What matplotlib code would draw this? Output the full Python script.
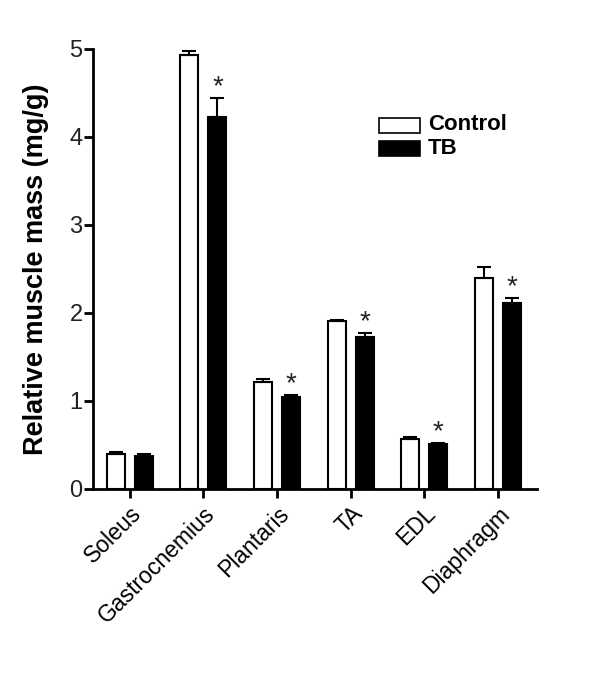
import matplotlib.pyplot as plt
from matplotlib.patches import Rectangle
import numpy as np

plt.rcParams['font.family'] = ['Liberation Sans', 'DejaVu Sans']

# Datos
muscles = ['Soleus', 'Gastrocnemius', 'Plantaris', 'TA', 'EDL', 'Diaphragm']
control = [0.40, 4.93, 1.22, 1.91, 0.57, 2.40]
control_err = [0.02, 0.05, 0.03, 0.01, 0.02, 0.12]
tb = [0.37, 4.23, 1.04, 1.73, 0.51, 2.11]
tb_err = [0.03, 0.21, 0.03, 0.04, 0.01, 0.06]
signif = [False, True, True, True, True, True]
series_names = ['Control', 'TB']

fig = plt.figure(figsize=(6, 6.77), dpi=100)
ax = fig.add_axes([0.155, 0.2777, 0.74, 0.65])

x = np.arange(len(muscles))
w = 0.245
off = 0.19

ax.bar(x - off, control, w, color='white', edgecolor='black', linewidth=1.5,
       yerr=[np.zeros(len(x)), control_err], capsize=5,
       error_kw=dict(elinewidth=1.5, capthick=1.5, ecolor='black'))
ax.bar(x + off, tb, w, color='black', edgecolor='black', linewidth=1.5,
       yerr=[np.zeros(len(x)), tb_err], capsize=5,
       error_kw=dict(elinewidth=1.5, capthick=1.5, ecolor='black'))

# asteriscos de significancia
for i in range(len(x)):
    if signif[i]:
        ax.annotate('*', xy=(x[i] + off, tb[i] + tb_err[i]), xytext=(0, -1.5),
                    textcoords='offset points', ha='center', va='bottom',
                    fontsize=20, color='#222222')

ax.set_xlim(-0.5, 5.53)
ax.set_ylim(0, 5)
ax.set_yticks([0, 1, 2, 3, 4, 5])
ax.set_xticks(x)
ax.set_xticklabels(muscles, rotation=45, ha='right', rotation_mode='anchor', fontsize=16.5)
ax.tick_params(axis='y', labelsize=17, width=2, length=6.5, pad=1, labelcolor='#222222')
ax.tick_params(axis='x', width=2, length=6.5, pad=3)
ax.set_ylabel('Relative muscle mass (mg/g)', fontsize=19.5, fontweight='bold', labelpad=15)

for s in ['top', 'right']:
    ax.spines[s].set_visible(False)
for s in ['left', 'bottom']:
    ax.spines[s].set_linewidth(2)

# leyenda dibujada a mano
fills = ['white', 'black']
rows_y = [125, 148]
for nome, cor, yy in zip(series_names, fills, rows_y):
    fig.patches.append(Rectangle((379 / 600, 1 - (yy + 7.5) / 677), 41 / 600, 15 / 677,
                                 transform=fig.transFigure, facecolor=cor,
                                 edgecolor='black', linewidth=1.2))
    fig.text(428 / 600, 1 - yy / 677, nome, ha='left', va='center',
             fontsize=16, fontweight='bold')

plt.savefig('out.png', dpi=100)
